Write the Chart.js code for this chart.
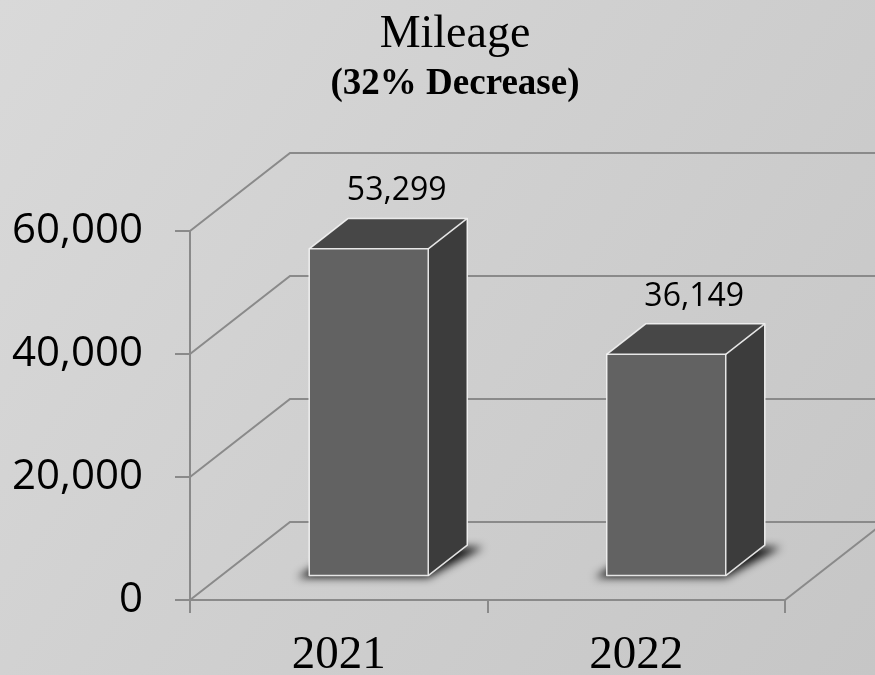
<!DOCTYPE html>
<html><head><meta charset="utf-8">
<script src="https://cdn.jsdelivr.net/npm/chart.js@4/dist/chart.umd.min.js"></script>
<style>
html,body{margin:0;padding:0;}
body{width:875px;height:675px;overflow:hidden;background:linear-gradient(125deg,#d9d9d9 0%,#d0d0d0 45%,#c6c6c6 100%);}
#wrap{position:relative;width:875px;height:675px;}
</style></head><body>
<div id="wrap"><canvas id="c" width="875" height="675"></canvas></div>
<script>
// ---- data ----
const categories = ['2021', '2022'];
const mileage = [53299, 36149];
const yTickValues = [0, 20000, 40000, 60000];
const titleText = 'Mileage';
const subtitleText = '(32% Decrease)';

// ---- 3D styling constants ----
const DX = 100, DY = -78;          // full depth offset of the back wall
const BAR_FRONT = 0.3, BAR_DEPTH = 0.39;
const LINE = '#8a8a8a';

const depth3d = {
  id: 'depth3d',
  beforeDatasetsDraw(chart) {
    const { ctx, chartArea: a, scales: { y } } = chart;
    ctx.save();
    ctx.strokeStyle = LINE; ctx.lineWidth = 2; ctx.lineJoin = 'miter';
    y.ticks.forEach(t => {
      const py = y.getPixelForValue(t.value);
      ctx.beginPath();
      ctx.moveTo(a.left, py);
      ctx.lineTo(a.left + DX, py + DY);
      ctx.lineTo(a.right + DX, py + DY);
      ctx.stroke();
    });
    ctx.beginPath();
    ctx.moveTo(a.right, a.bottom);
    ctx.lineTo(a.right + DX, a.bottom + DY);
    ctx.stroke();
    ctx.restore();
  },
  afterDatasetsDraw(chart) {
    const { ctx } = chart;
    const meta = chart.getDatasetMeta(0);
    const fx = BAR_FRONT * DX, fy = BAR_FRONT * DY;
    const ddx = BAR_DEPTH * DX, ddy = BAR_DEPTH * DY;
    meta.data.forEach((el, i) => {
      const p = el.getProps(['x', 'y', 'base', 'width'], true);
      const x0 = p.x - p.width / 2 + fx, x1 = p.x + p.width / 2 + fx;
      const yt = p.y + fy, yb = p.base + fy;
      ctx.save();
      // blurred shadow on the floor (shape drawn off-canvas, only its shadow shows)
      const OFF = 3000;
      ctx.shadowColor = 'rgba(0,0,0,0.9)';
      ctx.shadowBlur = 9;
      ctx.shadowOffsetX = OFF;
      ctx.fillStyle = '#000';
      ctx.beginPath();
      ctx.moveTo(x0 - 12 - OFF, yb + 2); ctx.lineTo(x1 - OFF, yb + 2);
      ctx.lineTo(x1 + ddx + 16 - OFF, yb + ddy + 2); ctx.lineTo(x0 + ddx - OFF, yb + ddy);
      ctx.closePath(); ctx.fill();
      ctx.restore();
      ctx.save();
      // top face
      ctx.fillStyle = '#474747';
      ctx.beginPath();
      ctx.moveTo(x0, yt); ctx.lineTo(x1, yt); ctx.lineTo(x1 + ddx, yt + ddy); ctx.lineTo(x0 + ddx, yt + ddy);
      ctx.closePath(); ctx.fill();
      // side face
      ctx.fillStyle = '#3c3c3c';
      ctx.beginPath();
      ctx.moveTo(x1, yt); ctx.lineTo(x1 + ddx, yt + ddy); ctx.lineTo(x1 + ddx, yb + ddy); ctx.lineTo(x1, yb);
      ctx.closePath(); ctx.fill();
      // front face
      ctx.fillStyle = '#626262';
      ctx.fillRect(x0, yt, x1 - x0, yb - yt);
      // edges
      ctx.strokeStyle = 'rgba(245,245,245,0.9)';
      ctx.lineWidth = 1.5; ctx.lineJoin = 'round';
      ctx.strokeRect(x0, yt, x1 - x0, yb - yt);
      ctx.beginPath();
      ctx.moveTo(x0, yt); ctx.lineTo(x0 + ddx, yt + ddy); ctx.lineTo(x1 + ddx, yt + ddy);
      ctx.lineTo(x1, yt);
      ctx.moveTo(x1 + ddx, yt + ddy); ctx.lineTo(x1 + ddx, yb + ddy); ctx.lineTo(x1, yb);
      ctx.stroke();
      // value label
      ctx.fillStyle = '#000';
      ctx.font = '32px "Open Sans"';
      ctx.textAlign = 'center'; ctx.textBaseline = 'alphabetic';
      const v = chart.data.datasets[0].data[i];
      ctx.fillText(v.toLocaleString('en-US'), (x0 + x1) / 2 + 28, yt + ddy - 18);
      ctx.restore();
    });
  },
  afterDraw(chart) {
    const { ctx } = chart;
    ctx.save();
    ctx.fillStyle = '#000';
    ctx.textAlign = 'center'; ctx.textBaseline = 'alphabetic';
    ctx.font = '46px "Liberation Serif"';
    ctx.fillText(titleText, 455, 47);
    ctx.font = 'bold 37px "Liberation Serif"';
    ctx.fillText(subtitleText, 455, 94);
    ctx.restore();
  }
};

new Chart(document.getElementById('c'), {
  type: 'bar',
  data: {
    labels: categories,
    datasets: [{
      label: 'Mileage',
      data: mileage,
      backgroundColor: 'rgba(0,0,0,0)',
      borderWidth: 0,
      barPercentage: 0.4,
      categoryPercentage: 1.0
    }]
  },
  options: {
    responsive: false,
    animation: false,
    devicePixelRatio: 1,
    locale: 'en-US',
    layout: { padding: { top: 231, right: 90, bottom: 0, left: 0 } },
    plugins: { legend: { display: false }, tooltip: { enabled: false }, title: { display: false } },
    scales: {
      x: {
        type: 'category',
        grid: { display: true, drawOnChartArea: false, drawTicks: true, tickLength: 13, color: LINE, lineWidth: 2, offset: true },
        border: { display: true, color: LINE, width: 2 },
        ticks: { font: { family: 'Liberation Serif', size: 47 }, color: '#000', padding: 14, maxRotation: 0 },
        afterFit(s) { s.height = 75; }
      },
      y: {
        min: 0, max: 60000,
        afterBuildTicks(s) { s.ticks = yTickValues.map(v => ({ value: v })); },
        ticks: { font: { family: 'Open Sans', size: 42 }, color: '#000', padding: 32 },
        grid: { display: true, drawOnChartArea: false, drawTicks: true, tickLength: 15, color: LINE, lineWidth: 2 },
        border: { display: true, color: LINE, width: 2 },
        afterFit(s) { s.width = 190; }
      }
    }
  },
  plugins: [depth3d]
});
</script>
</body></html>
